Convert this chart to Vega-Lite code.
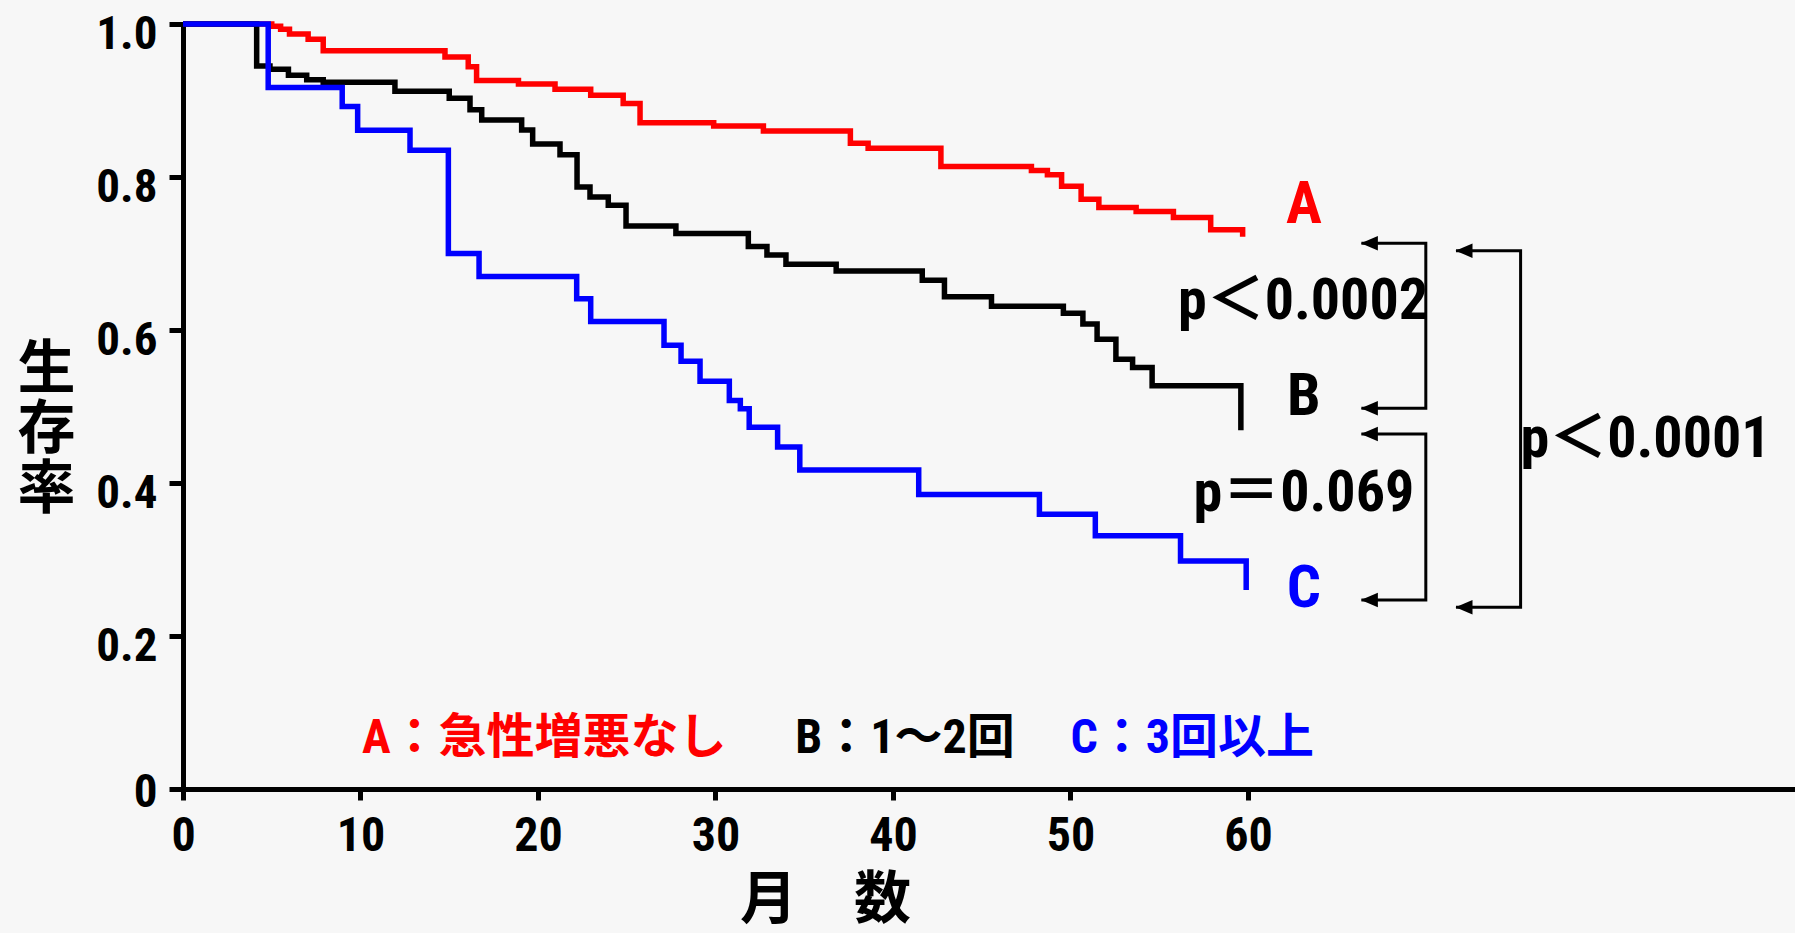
{
  "$schema": "https://vega.github.io/schema/vega-lite/v6.json",
  "width": 1612,
  "height": 765,
  "autosize": {"type": "none"},
  "padding": {"left": 183, "top": 24, "right": 0, "bottom": 144},
  "background": "#f7f7f7",
  "config": {
    "view": {"stroke": null},
    "axis": {"grid": false, "domainColor": "#000000", "tickColor": "#000000", "labelColor": "#000000", "titleColor": "#000000", "domainWidth": 5, "tickWidth": 5, "domainCap": "square"}
  },
  "datasets": {
    "surv": [
      {"group": "A", "month": 0, "surv": 1.0},
      {"group": "A", "month": 5.0, "surv": 0.997},
      {"group": "A", "month": 5.5, "surv": 0.993},
      {"group": "A", "month": 6.0, "surv": 0.987},
      {"group": "A", "month": 7.05, "surv": 0.980},
      {"group": "A", "month": 7.9, "surv": 0.965},
      {"group": "A", "month": 14.76, "surv": 0.957},
      {"group": "A", "month": 16.07, "surv": 0.944},
      {"group": "A", "month": 16.54, "surv": 0.926},
      {"group": "A", "month": 18.9, "surv": 0.9216},
      {"group": "A", "month": 20.96, "surv": 0.9146},
      {"group": "A", "month": 22.97, "surv": 0.907},
      {"group": "A", "month": 24.8, "surv": 0.896},
      {"group": "A", "month": 25.75, "surv": 0.871},
      {"group": "A", "month": 29.9, "surv": 0.8667},
      {"group": "A", "month": 32.7, "surv": 0.860},
      {"group": "A", "month": 37.6, "surv": 0.844},
      {"group": "A", "month": 38.6, "surv": 0.8375},
      {"group": "A", "month": 42.7, "surv": 0.8137},
      {"group": "A", "month": 47.8, "surv": 0.8085},
      {"group": "A", "month": 48.7, "surv": 0.803},
      {"group": "A", "month": 49.5, "surv": 0.788},
      {"group": "A", "month": 50.6, "surv": 0.771},
      {"group": "A", "month": 51.6, "surv": 0.760},
      {"group": "A", "month": 53.7, "surv": 0.755},
      {"group": "A", "month": 55.8, "surv": 0.747},
      {"group": "A", "month": 57.9, "surv": 0.731},
      {"group": "A", "month": 59.7, "surv": 0.722},
      {"group": "B", "month": 0, "surv": 1.0},
      {"group": "B", "month": 4.15, "surv": 0.945},
      {"group": "B", "month": 4.9, "surv": 0.941},
      {"group": "B", "month": 5.94, "surv": 0.933},
      {"group": "B", "month": 6.97, "surv": 0.927},
      {"group": "B", "month": 7.9, "surv": 0.924},
      {"group": "B", "month": 11.94, "surv": 0.912},
      {"group": "B", "month": 15.0, "surv": 0.903},
      {"group": "B", "month": 16.17, "surv": 0.888},
      {"group": "B", "month": 16.83, "surv": 0.8745},
      {"group": "B", "month": 19.08, "surv": 0.8614},
      {"group": "B", "month": 19.7, "surv": 0.843},
      {"group": "B", "month": 21.24, "surv": 0.829},
      {"group": "B", "month": 22.2, "surv": 0.787},
      {"group": "B", "month": 22.93, "surv": 0.774},
      {"group": "B", "month": 23.96, "surv": 0.763},
      {"group": "B", "month": 24.96, "surv": 0.736},
      {"group": "B", "month": 27.77, "surv": 0.726},
      {"group": "B", "month": 31.85, "surv": 0.709},
      {"group": "B", "month": 32.9, "surv": 0.698},
      {"group": "B", "month": 33.97, "surv": 0.686},
      {"group": "B", "month": 36.8, "surv": 0.677},
      {"group": "B", "month": 41.65, "surv": 0.665},
      {"group": "B", "month": 42.9, "surv": 0.6435},
      {"group": "B", "month": 45.55, "surv": 0.631},
      {"group": "B", "month": 49.6, "surv": 0.622},
      {"group": "B", "month": 50.7, "surv": 0.608},
      {"group": "B", "month": 51.5, "surv": 0.588},
      {"group": "B", "month": 52.56, "surv": 0.5617},
      {"group": "B", "month": 53.5, "surv": 0.551},
      {"group": "B", "month": 54.6, "surv": 0.527},
      {"group": "B", "month": 59.6, "surv": 0.469},
      {"group": "C", "month": 0, "surv": 1.0},
      {"group": "C", "month": 4.8, "surv": 0.917},
      {"group": "C", "month": 8.97, "surv": 0.892},
      {"group": "C", "month": 9.84, "surv": 0.861},
      {"group": "C", "month": 12.79, "surv": 0.835},
      {"group": "C", "month": 14.95, "surv": 0.700},
      {"group": "C", "month": 16.68, "surv": 0.670},
      {"group": "C", "month": 22.18, "surv": 0.641},
      {"group": "C", "month": 22.97, "surv": 0.611},
      {"group": "C", "month": 27.1, "surv": 0.580},
      {"group": "C", "month": 28.06, "surv": 0.559},
      {"group": "C", "month": 29.13, "surv": 0.533},
      {"group": "C", "month": 30.78, "surv": 0.508},
      {"group": "C", "month": 31.4, "surv": 0.497},
      {"group": "C", "month": 31.9, "surv": 0.473},
      {"group": "C", "month": 33.5, "surv": 0.447},
      {"group": "C", "month": 34.75, "surv": 0.417},
      {"group": "C", "month": 41.45, "surv": 0.385},
      {"group": "C", "month": 48.25, "surv": 0.359},
      {"group": "C", "month": 51.4, "surv": 0.331},
      {"group": "C", "month": 56.2, "surv": 0.298},
      {"group": "C", "month": 59.9, "surv": 0.260}
    ],
    "brackets": [
      {"b": 1, "o": 1, "month": 66.39, "surv": 0.7133},
      {"b": 1, "o": 2, "month": 70.02, "surv": 0.7133},
      {"b": 1, "o": 3, "month": 70.02, "surv": 0.4977},
      {"b": 1, "o": 4, "month": 66.39, "surv": 0.4977},
      {"b": 2, "o": 1, "month": 66.39, "surv": 0.4641},
      {"b": 2, "o": 2, "month": 70.02, "surv": 0.4641},
      {"b": 2, "o": 3, "month": 70.02, "surv": 0.2471},
      {"b": 2, "o": 4, "month": 66.39, "surv": 0.2471},
      {"b": 3, "o": 1, "month": 71.72, "surv": 0.7037},
      {"b": 3, "o": 2, "month": 75.36, "surv": 0.7037},
      {"b": 3, "o": 3, "month": 75.36, "surv": 0.2375},
      {"b": 3, "o": 4, "month": 71.72, "surv": 0.2375}
    ],
    "arrows": [
      {"month": 66.84, "surv": 0.7133},
      {"month": 66.84, "surv": 0.4977},
      {"month": 66.84, "surv": 0.4641},
      {"month": 66.84, "surv": 0.2471},
      {"month": 72.17, "surv": 0.7037},
      {"month": 72.17, "surv": 0.2375}
    ],
    "groupLabels": [
      {"group": "A", "label": "A", "month": 63.15, "surv": 0.7686},
      {"group": "B", "label": "B", "month": 63.15, "surv": 0.517},
      {"group": "C", "label": "C", "month": 63.15, "surv": 0.2667}
    ],
    "pvalues": [
      {"label": "p＜0.0002", "month": 63.1, "surv": 0.642},
      {"label": "p＝0.069", "month": 63.15, "surv": 0.391},
      {"label": "p＜0.0001", "month": 82.4, "surv": 0.462}
    ],
    "legendText": [
      {"group": "A", "label": "A：急性増悪なし", "month": 10.08, "surv": 0.0706},
      {"group": "B", "label": "B：1〜2回", "month": 34.5, "surv": 0.0706},
      {"group": "C", "label": "C：3回以上", "month": 50.0, "surv": 0.0706}
    ]
  },
  "layer": [
    {
      "data": {"name": "surv"},
      "mark": {"type": "line", "interpolate": "step-after", "strokeWidth": 5.5, "strokeJoin": "miter", "strokeCap": "butt"},
      "encoding": {
        "x": {
          "field": "month", "type": "quantitative",
          "scale": {"domain": [0, 90.82], "nice": false, "zero": false},
          "axis": {
            "values": [0, 10, 20, 30, 40, 50, 60],
            "title": "月　数",
            "titleFont": "Noto Sans CJK JP", "titleFontSize": 57, "titleFontWeight": "bold",
            "titleX": 642, "titleY": 111, "titleAlign": "center", "titleBaseline": "middle", "titleAnchor": null,
            "labelFont": "Roboto Condensed, Liberation Sans Narrow, Liberation Sans, sans-serif", "labelFontSize": 48, "labelFontWeight": "bold",
            "labelPadding": 12, "tickSize": 11, "labelFlush": false, "labelOverlap": false
          }
        },
        "y": {
          "field": "surv", "type": "quantitative",
          "scale": {"domain": [0, 1], "nice": false},
          "axis": {
            "values": [0, 0.2, 0.4, 0.6, 0.8, 1.0],
            "labelExpr": "datum.value == 0 ? '0' : format(datum.value, '.1f')",
            "title": ["生", "存", "率"],
            "titleAngle": 0, "titleX": -137, "titleY": 346, "titleAlign": "center", "titleBaseline": "middle",
            "titleFont": "Noto Sans CJK JP", "titleFontSize": 58, "titleFontWeight": "bold", "titleLineHeight": 60,
            "labelFont": "Roboto Condensed, Liberation Sans Narrow, Liberation Sans, sans-serif", "labelFontSize": 47, "labelFontWeight": "bold",
            "labelPadding": 12, "tickSize": 14, "labelFlush": false, "labelOverlap": false,
            "labelOffset": {"condition": {"test": "datum.value == 0", "value": 3}, "value": 10}
          }
        },
        "color": {"field": "group", "type": "nominal", "scale": {"domain": ["A", "B", "C"], "range": ["#ff0000", "#000000", "#0000ff"]}, "legend": null}
      }
    },
    {
      "mark": {"type": "rule", "strokeWidth": 5, "color": "#000000"},
      "encoding": {"y": {"datum": 1}}
    },
    {
      "data": {"name": "brackets"},
      "mark": {"type": "line", "strokeWidth": 3, "color": "#000000", "strokeJoin": "miter"},
      "encoding": {
        "x": {"field": "month", "type": "quantitative"},
        "y": {"field": "surv", "type": "quantitative"},
        "detail": {"field": "b"},
        "order": {"field": "o"}
      }
    },
    {
      "data": {"name": "arrows"},
      "mark": {"type": "point", "shape": "M-1,0L1,-0.85L1,0.85Z", "filled": true, "color": "#000000", "opacity": 1, "size": 289},
      "encoding": {
        "x": {"field": "month", "type": "quantitative"},
        "y": {"field": "surv", "type": "quantitative"}
      }
    },
    {
      "data": {"name": "groupLabels"},
      "mark": {"type": "text", "font": "Roboto Condensed, Liberation Sans Narrow, Liberation Sans, sans-serif", "fontSize": 60, "fontWeight": "bold", "align": "center", "baseline": "middle", "dy": 4},
      "encoding": {
        "x": {"field": "month", "type": "quantitative"},
        "y": {"field": "surv", "type": "quantitative"},
        "text": {"field": "label"},
        "color": {"field": "group", "type": "nominal", "legend": null}
      }
    },
    {
      "data": {"name": "pvalues"},
      "mark": {"type": "text", "font": "Roboto Condensed, Liberation Sans Narrow, Liberation Sans, Noto Sans CJK JP, sans-serif", "fontSize": 58, "fontWeight": "bold", "align": "center", "baseline": "middle", "dy": 4, "color": "#000000"},
      "encoding": {
        "x": {"field": "month", "type": "quantitative"},
        "y": {"field": "surv", "type": "quantitative"},
        "text": {"field": "label"}
      }
    },
    {
      "data": {"name": "legendText"},
      "mark": {"type": "text", "font": "Roboto Condensed, Noto Sans CJK JP, sans-serif", "fontSize": 48, "fontWeight": "bold", "align": "left", "baseline": "middle", "dy": 4},
      "encoding": {
        "x": {"field": "month", "type": "quantitative"},
        "y": {"field": "surv", "type": "quantitative"},
        "text": {"field": "label"},
        "color": {"field": "group", "type": "nominal", "legend": null}
      }
    }
  ]
}
